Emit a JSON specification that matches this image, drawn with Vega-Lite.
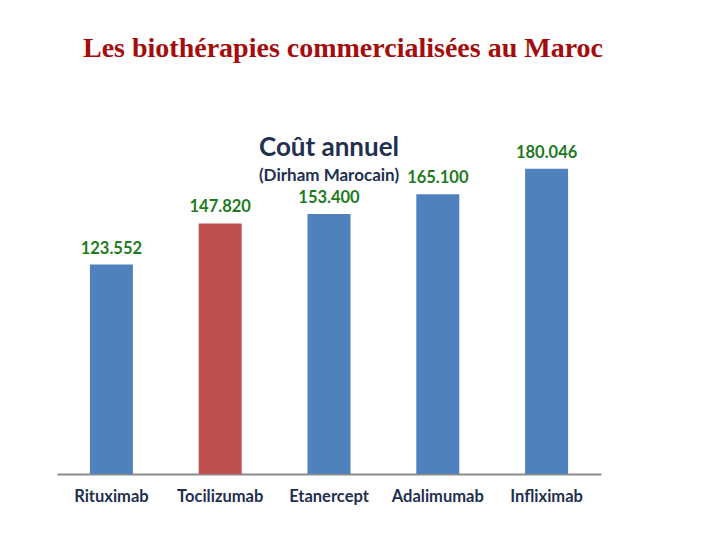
{
  "$schema": "https://vega.github.io/schema/vega-lite/v6.json",
  "width": 544,
  "height": 339,
  "padding": {"left": 57, "top": 35, "right": 119, "bottom": 20},
  "background": "white",
  "title": {
    "text": "Les biothérapies commercialisées au Maroc",
    "font": "Liberation Serif",
    "fontSize": 28,
    "fontWeight": "bold",
    "color": "#a50d0d",
    "anchor": "middle",
    "dx": 14,
    "offset": 72
  },
  "config": {"view": {"stroke": null}},
  "datasets": {
    "costs": [
      {"name": "Rituximab", "cost": 123.552},
      {"name": "Tocilizumab", "cost": 147.82},
      {"name": "Etanercept", "cost": 153.4},
      {"name": "Adalimumab", "cost": 165.1},
      {"name": "Infliximab", "cost": 180.046}
    ],
    "notes": [
      {"name": "Etanercept", "pos": 192.3, "text": "Coût annuel", "kind": "main"},
      {"name": "Etanercept", "pos": 175.8, "text": "(Dirham Marocain)", "kind": "sub"}
    ]
  },
  "encoding": {
    "x": {
      "field": "name",
      "type": "nominal",
      "sort": ["Rituximab", "Tocilizumab", "Etanercept", "Adalimumab", "Infliximab"],
      "scale": {"paddingInner": 0.605, "paddingOuter": 0.3025},
      "axis": {
        "title": null,
        "labelAngle": 0,
        "ticks": false,
        "domainColor": "#8c8c8c",
        "domainWidth": 2,
        "labelFont": "Lato",
        "labelFontSize": 16.5,
        "labelFontWeight": "bold",
        "labelColor": "#1f3050",
        "labelPadding": 14
      }
    }
  },
  "layer": [
    {
      "data": {"name": "costs"},
      "mark": {"type": "bar"},
      "encoding": {
        "y": {"field": "cost", "type": "quantitative", "scale": {"domain": [0, 200]}, "axis": null},
        "color": {
          "field": "name",
          "type": "nominal",
          "scale": {
            "domain": ["Rituximab", "Tocilizumab", "Etanercept", "Adalimumab", "Infliximab"],
            "range": ["#4f81bd", "#c0504d", "#4f81bd", "#4f81bd", "#4f81bd"]
          },
          "legend": null
        }
      }
    },
    {
      "data": {"name": "costs"},
      "mark": {"type": "text", "dy": -16, "baseline": "middle", "font": "Lato", "fontSize": 16.5, "fontWeight": "bold", "color": "#1e7b1e"},
      "encoding": {
        "y": {"field": "cost", "type": "quantitative"},
        "text": {"field": "cost", "type": "quantitative", "format": ".3f"}
      }
    },
    {
      "data": {"name": "notes"},
      "transform": [{"filter": "datum.kind === 'main'"}],
      "mark": {"type": "text", "baseline": "middle", "font": "Lato", "fontSize": 26, "fontWeight": "bold", "color": "#1f3050"},
      "encoding": {
        "y": {"field": "pos", "type": "quantitative"},
        "text": {"field": "text"}
      }
    },
    {
      "data": {"name": "notes"},
      "transform": [{"filter": "datum.kind === 'sub'"}],
      "mark": {"type": "text", "baseline": "middle", "font": "Lato", "fontSize": 17, "fontWeight": "bold", "color": "#1f3050"},
      "encoding": {
        "y": {"field": "pos", "type": "quantitative"},
        "text": {"field": "text"}
      }
    }
  ]
}
